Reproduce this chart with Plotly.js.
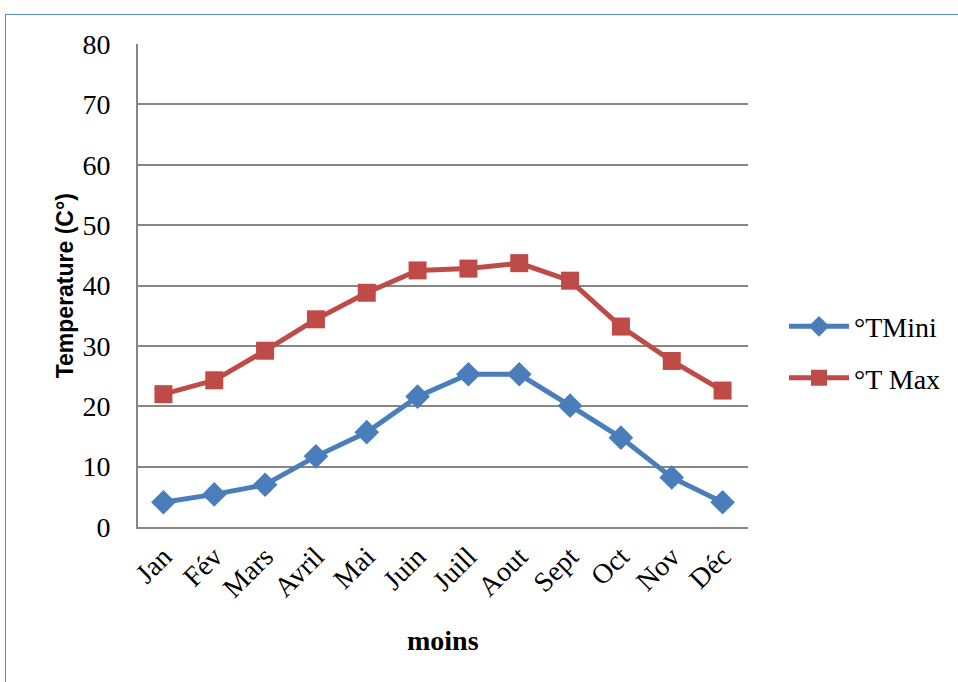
<!DOCTYPE html>
<html>
<head>
<meta charset="utf-8">
<script src="https://cdn.plot.ly/plotly-3.0.1.min.js"></script>
<style>
  html, body { margin: 0; padding: 0; background: #ffffff; }
  #frame {
    position: absolute; left: 5px; top: 14px; width: 1000px; height: 700px;
    border-left: 1.5px solid #5b8ac8; border-top: 1.5px solid #5b8ac8;
  }
  #chart { position: absolute; left: 0; top: 0; width: 958px; height: 682px; }
</style>
</head>
<body>
<div id="frame"></div>
<div id="chart"></div>
<script>
// Monthly temperatures (°C)
const months = ['Jan', 'Fév', 'Mars', 'Avril', 'Mai', 'Juin', 'Juill', 'Aout', 'Sept', 'Oct', 'Nov', 'Déc'];
const tMin = [4.1, 5.4, 7.0, 11.7, 15.7, 21.6, 25.3, 25.3, 20.1, 14.8, 8.2, 4.1];
const tMax = [22.0, 24.3, 29.2, 34.4, 38.8, 42.5, 42.8, 43.7, 40.8, 33.2, 27.5, 22.6];
const yTicks = [0, 10, 20, 30, 40, 50, 60, 70, 80];

const serif = 'Liberation Serif, Times New Roman, serif';

const traces = [
  {
    x: months, y: tMin, name: '°TMini', type: 'scatter', mode: 'lines+markers',
    legendgroup: 'min',
    line: { color: '#4a7ebb', width: 5 },
    marker: { symbol: 'diamond', size: 19, color: '#4a7ebb' }
  },
  {
    x: months, y: tMax, name: '°T Max', type: 'scatter', mode: 'lines+markers',
    legendgroup: 'max',
    line: { color: '#be4b48', width: 5 },
    marker: { symbol: 'square', size: 18, color: '#be4b48' }
  }
];

const layout = {
  width: 958, height: 682,
  margin: { l: 138, r: 208, t: 44, b: 155 },
  paper_bgcolor: 'rgba(0,0,0,0)',
  plot_bgcolor: '#ffffff',
  showlegend: true,
  legend: {
    x: 1.059, y: 0.362, xanchor: 'left', yanchor: 'middle',
    font: { family: serif, size: 28, color: '#000000' },
    traceorder: 'grouped', tracegroupgap: 12, itemwidth: 60
  },
  xaxis: {
    type: 'category', range: [-0.5, 11.5],
    tickangle: -45, tickfont: { family: serif, size: 28, color: '#000000' },
    showgrid: false, showline: true, linecolor: '#868686', linewidth: 2,
    ticks: '', zeroline: false, fixedrange: true
  },
  yaxis: {
    range: [0, 80], tickvals: yTicks,
    tickfont: { family: serif, size: 28, color: '#000000' },
    showgrid: true, gridcolor: '#868686', gridwidth: 2,
    showline: true, linecolor: '#868686', linewidth: 2,
    ticks: '', ticklabelstandoff: 20, zeroline: false, fixedrange: true
  },
  annotations: [
    {
      text: '<b>moins</b>', xref: 'paper', yref: 'paper', x: 0.5, y: -0.235,
      xanchor: 'center', yanchor: 'middle', showarrow: false,
      font: { family: serif, size: 28, color: '#000000' }
    },
    {
      text: '<b>Temperature (C°)</b>', xref: 'paper', yref: 'paper', x: -0.12, y: 0.5,
      xanchor: 'center', yanchor: 'middle', textangle: -90, showarrow: false,
      font: { family: 'Liberation Sans, Arial, sans-serif', size: 23, color: '#000000' }
    }
  ]
};

Plotly.newPlot('chart', traces, layout, { staticPlot: true, displayModeBar: false });
</script>
</body>
</html>
